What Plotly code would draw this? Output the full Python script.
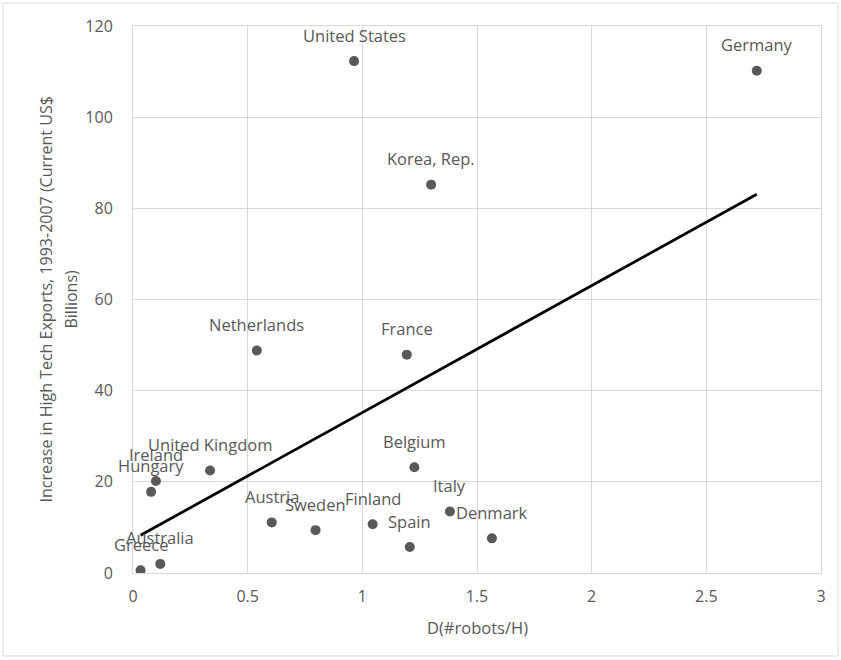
import numpy as np
import plotly.graph_objects as go

# Country data: change in robot density vs. increase in high-tech exports
countries = ["Greece", "Australia", "Hungary", "Ireland", "United Kingdom",
             "Netherlands", "Austria", "Sweden", "United States", "Finland",
             "France", "Spain", "Belgium", "Korea, Rep.", "Italy", "Denmark",
             "Germany"]
robots_change = [0.033, 0.119, 0.079, 0.100, 0.336,
                 0.540, 0.605, 0.796, 0.964, 1.045,
                 1.194, 1.207, 1.227, 1.300, 1.382, 1.565,
                 2.720]
export_increase = [0.6, 2.0, 17.8, 20.2, 22.5,
                   48.8, 11.1, 9.4, 112.3, 10.7,
                   47.9, 5.7, 23.2, 85.2, 13.5, 7.6,
                   110.2]

x_ticks = [0, 0.5, 1, 1.5, 2, 2.5, 3]
y_ticks = [0, 20, 40, 60, 80, 100, 120]

x_title = "D(#robots/H)"
y_title_lines = ["Increase in High Tech Exports, 1993-2007 (Current US$", "Billions)"]

GREY_TEXT = "#595959"
GRID = "#d9d9d9"
FONT = "Open Sans"

# Linear trend over the data range
slope, intercept = np.polyfit(robots_change, export_increase, 1)
trend_x = np.array([min(robots_change), max(robots_change)])
trend_y = slope * trend_x + intercept

fig = go.Figure()

fig.add_trace(go.Scatter(
    x=robots_change, y=export_increase, mode="markers",
    marker=dict(size=10, color=GREY_TEXT, line=dict(width=0)),
    hoverinfo="skip", showlegend=False,
))

fig.add_trace(go.Scatter(
    x=trend_x, y=trend_y, mode="lines",
    line=dict(color="black", width=2.75),
    hoverinfo="skip", showlegend=False,
))

# Country labels just above each marker
annotations = []
for name, xv, yv in zip(countries, robots_change, export_increase):
    annotations.append(dict(
        x=xv, y=yv, xref="x", yref="y", text=name, showarrow=False,
        yshift=26, font=dict(family=FONT, size=16.5, color=GREY_TEXT),
    ))

# Axis titles
annotations.append(dict(
    x=0.5, y=0, xref="paper", yref="paper", text=x_title, showarrow=False,
    yshift=-54, xanchor="center", yanchor="middle",
    font=dict(family=FONT, size=16.5, color=GREY_TEXT),
))
for line, px in zip(y_title_lines, [45, 70]):
    annotations.append(dict(
        x=(px - 133) / 688, y=0.5, xref="paper", yref="paper", text=line,
        showarrow=False, textangle=-90, xanchor="center", yanchor="middle",
        font=dict(family=FONT, size=16, color=GREY_TEXT),
    ))

fig.update_layout(
    width=841, height=660,
    margin=dict(l=133, r=20, t=26, b=87),
    paper_bgcolor="white", plot_bgcolor="white",
    font=dict(family=FONT, size=16, color=GREY_TEXT),
    annotations=annotations,
    hovermode=False,
    shapes=[dict(
        type="rect", xref="paper", yref="paper",
        x0=(3 - 133) / 688, x1=(838 - 133) / 688,
        y0=(573 - 656) / 547, y1=(573 - 3) / 547,
        line=dict(color=GRID, width=1), fillcolor="rgba(0,0,0,0)", layer="below",
    )],
)

fig.update_xaxes(
    range=[0, 3], tickvals=x_ticks, ticktext=[f"{v:g}" for v in x_ticks],
    showgrid=True, gridcolor=GRID, gridwidth=1,
    zeroline=False, showline=True, mirror=True, linecolor=GRID, linewidth=1,
    ticks="", ticklabelstandoff=9,
    tickfont=dict(family=FONT, size=16, color=GREY_TEXT),
)
fig.update_yaxes(
    range=[0, 120], tickvals=y_ticks, ticktext=[str(v) for v in y_ticks],
    showgrid=True, gridcolor=GRID, gridwidth=1,
    zeroline=False, showline=True, mirror=True, linecolor=GRID, linewidth=1,
    ticks="", ticklabelstandoff=16,
    tickfont=dict(family=FONT, size=16, color=GREY_TEXT),
)

fig.write_html("out.html")
